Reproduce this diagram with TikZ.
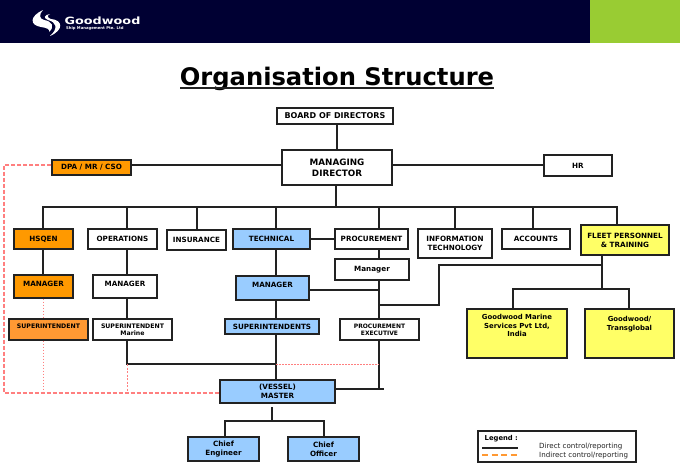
\documentclass[tikz,border=0pt]{standalone}
\usepackage{fontspec}
\setmainfont{DejaVu Sans}
\definecolor{navy}{HTML}{000033}
\definecolor{lime}{HTML}{99CC33}
\definecolor{orgbox}{HTML}{FF9900}
\definecolor{orglight}{HTML}{FF9933}
\definecolor{bluebox}{HTML}{99CCFF}
\definecolor{yellowbox}{HTML}{FFFF66}
\definecolor{ink}{HTML}{222222}
\definecolor{pinkline}{HTML}{FF7F7F}

\begin{document}
\begin{tikzpicture}[
        x=1pt, y=-1pt,
        every node/.style = {font=\fontsize{7.2}{9}\selectfont\bfseries, text=black},
        box/.style = {draw=ink, line width=1.2pt, fill=white, align=center, inner sep=0pt},
        size/.style 2 args = {minimum width=#1pt, minimum height=#2pt},
        uptext/.style = {text depth=#1pt},
        link/.style = {draw=ink, line width=1.3pt},
        indirect/.style = {draw=pinkline, line width=1.1pt, dash pattern=on 4pt off 2pt},
        dots/.style = {draw=pinkline, line width=1pt, dash pattern=on 1.5pt off 1.5pt}
    ]
    \useasboundingbox (0,0) rectangle (680,471);

    \fill[navy] (0,0) rectangle (590,43);
    \fill[lime] (590,0) rectangle (680,43);
    \fill[white] (43,10) .. controls (30,16) and (29,25) .. (41,27) .. controls (47,28) and (50,29) .. (49,32) .. controls (55,27) and (52,21) .. (44,20) .. controls (39,19) and (39,14) .. (43,10);
    \fill[white] (50,36) .. controls (64,30) and (63,20) .. (51,19) .. controls (47,18) and (47,15) .. (50,14) .. controls (44,15) and (43,18) .. (48,20) .. controls (56,22) and (59,28) .. (50,36);
    \node[text=white, font=\fontsize{10}{10}\selectfont\bfseries, xscale=1.28, transform shape, inner sep=0pt] (logoname) at (102.5,21) {Goodwood};
    \node[text=white, font=\fontsize{3.8}{4}\selectfont\bfseries, inner sep=0pt, anchor=west] (logosub) at (66,28) {Ship Management Pte. Ltd};

    \node[font=\fontsize{24.2}{26}\selectfont\bfseries, inner sep=0pt, anchor=base] (title) at (337,85) {Organisation Structure};
    \draw[ink, line width=1.6pt] (180,88) -- (494,88);

    \node[box, size={116}{16}, font=\fontsize{8}{9}\selectfont\bfseries] (board) at (335,116) {BOARD OF DIRECTORS};
    \node[box, size={110}{35}, font=\fontsize{8.8}{11}\selectfont\bfseries] (md) at (337,167.5) {MANAGING\\DIRECTOR};
    \node[box, size={79}{15}, fill=orgbox] (dpa) at (91.5,167.5) {DPA / MR / CSO};
    \node[box, size={68}{21}] (hr) at (578,165.5) {HR};

    \node[box, size={59}{20}, fill=orgbox] (hsqen) at (43.5,239) {HSQEN};
    \node[box, size={69}{20}] (ops) at (122.5,239) {OPERATIONS};
    \node[box, size={59}{20}] (insurance) at (196.5,240) {INSURANCE};
    \node[box, size={77}{20}, fill=bluebox] (technical) at (271.5,239) {TECHNICAL};
    \node[box, size={73}{20}] (procurement) at (371.5,239) {PROCUREMENT};
    \node[box, size={74}{29}] (infotech) at (455,243.5) {INFORMATION\\TECHNOLOGY};
    \node[box, size={68}{20}] (accounts) at (536,239) {ACCOUNTS};
    \node[box, size={88}{30}, fill=yellowbox] (fleet) at (625,240) {FLEET PERSONNEL\\\&\ TRAINING};

    \node[box, size={59}{23}, fill=orgbox, uptext=6] (hsqenmgr) at (43.5,286.5) {MANAGER};
    \node[box, size={64}{23}, uptext=6] (opsmgr) at (125,286.5) {MANAGER};
    \node[box, size={73}{24}, fill=bluebox, uptext=6] (techmgr) at (272.5,288) {MANAGER};
    \node[box, size={74}{21}] (procmgr) at (372,269.5) {Manager};

    \node[box, size={79}{21}, fill=orglight, uptext=6, font=\fontsize{6.2}{7.5}\selectfont\bfseries] (hsqensup) at (48.5,329.5) {SUPERINTENDENT};
    \node[box, size={79}{21}, font=\fontsize{6.2}{7.3}\selectfont\bfseries] (marinesup) at (132.5,329.5) {SUPERINTENDENT\\Marine};
    \node[box, size={94}{15}, fill=bluebox] (techsup) at (272,326.5) {SUPERINTENDENTS};
    \node[box, size={79}{21}, font=\fontsize{6}{7.3}\selectfont\bfseries] (procexec) at (379.5,329.5) {PROCUREMENT\\EXECUTIVE};

    \node[box, size={100}{49}, fill=yellowbox, uptext=16, font=\fontsize{6.9}{8.4}\selectfont\bfseries] (gmarine) at (517,333.5) {Goodwood Marine\\Services Pvt Ltd,\\India};
    \node[box, size={89}{49}, fill=yellowbox, uptext=20, font=\fontsize{6.9}{8.4}\selectfont\bfseries] (transglobal) at (629.5,333.5) {Goodwood/\\Transglobal};

    \node[box, size={115}{23}, fill=bluebox] (master) at (277.5,391.5) {(VESSEL)\\MASTER};
    \node[box, size={71}{24}, fill=bluebox] (chiefeng) at (223.5,449) {Chief\\Engineer};
    \node[box, size={71}{24}, fill=bluebox] (chiefoff) at (323.5,449) {Chief\\Officer};

    \coordinate (bus) at (336,207);
    \coordinate (fleetjoin) at (602,289);
    \coordinate (mastertop) at (272,407);
    \coordinate (masterbus) at (272,421);
    \coordinate (marinebus) at (127,364);
    \coordinate (techbus) at (276,364);
    \coordinate (procbus) at (379,364);
    \coordinate (procjoin) at (379,305);
    \coordinate (fleetbend) at (439,265);
    \coordinate (indleft) at (4,165);

    \draw[link] (board.south -| md) -- (md.north);
    \draw[link] (dpa.east |- 0,165) -- (md.west |- 0,165);
    \draw[link] (md.east |- 0,165) -- (hr.west |- 0,165);
    \draw[link] (md.south -| bus) -- (bus);
    \draw[link] (hsqen.north -| 43,0) |- (bus) -| (fleet.north -| 617,0);
    \draw[link] (ops.north -| 127,0) -- (127,207);
    \draw[link] (insurance.north -| 197,0) -- (197,207);
    \draw[link] (technical.north -| 276,0) -- (276,207);
    \draw[link] (procurement.north -| 379,0) -- (379,207);
    \draw[link] (infotech.north) -- (455,207);
    \draw[link] (accounts.north -| 533,0) -- (533,207);

    \draw[link] (hsqen.south -| 43,0) -- (hsqenmgr.north -| 43,0);
    \draw[link] (ops.south -| 127,0) -- (opsmgr.north -| 127,0);
    \draw[link] (opsmgr.south -| 127,0) -- (marinesup.north -| 127,0);
    \draw[link] (marinesup.south -| 127,0) -- (marinebus) -- (techbus);
    \draw[link] (technical.south -| 276,0) -- (techmgr.north -| 276,0);
    \draw[link] (techmgr.south -| 276,0) -- (techsup.north -| 276,0);
    \draw[link] (techsup.south -| 276,0) -- (master.north -| 276,0);
    \draw[link] (technical.east) -- (procurement.west);
    \draw[link] (techmgr.east |- 0,290) -- (379,290);
    \draw[link] (procurement.south -| 379,0) -- (procmgr.north -| 379,0);
    \draw[link] (procmgr.south -| 379,0) -- (procexec.north -| 379,0);
    \draw[link] (procexec.south -| 379,0) -- (379,389);
    \draw[link] (master.east |- 0,389) -- (384,389);

    \draw[link] (fleet.south -| fleetjoin) -- (fleetjoin);
    \draw[link] (fleetjoin |- fleetbend) -- (fleetbend) -- (procjoin -| fleetbend) -- (procjoin);
    \draw[link] (gmarine.north -| 513,0) |- (fleetjoin) -| (transglobal.north -| 629,0);

    \draw[link] (mastertop) -- (masterbus);
    \draw[link] (chiefeng.north -| 225,0) |- (masterbus) -| (chiefoff.north -| 324,0);

    \draw[indirect] (dpa.west |- indleft) -- (indleft) -- (4,393) -- (master.west |- 0,393);
    \draw[dots] (hsqenmgr.south -| 43,0) -- (hsqensup.north -| 43,0);
    \draw[dots] (hsqensup.south -| 43,0) -- (43,393);
    \draw[dots, dash pattern=on 2pt off 1.5pt] (marinebus) -- (127,393);
    \draw[dots] (techbus) -- (procbus);

    \node[draw=ink, line width=1.2pt, minimum width=158pt, minimum height=31pt, inner sep=0pt] (legendbox) at (557,446.5) {};
    \node[anchor=west, inner sep=0pt, font=\fontsize{6.8}{8}\selectfont\bfseries] (legendtitle) at (484.5,438.5) {Legend :};
    \coordinate (solidl) at (482,448);
    \coordinate (solidr) at (518,448);
    \coordinate (dashl) at (482,455);
    \coordinate (dashr) at (518,455);
    \draw[link] (solidl) -- (solidr);
    \draw[draw=orglight, line width=1.3pt, dash pattern=on 6pt off 3.5pt] (dashl) -- (dashr);
    \node[anchor=west, inner sep=0pt, font=\fontsize{7.1}{8}\selectfont, text=ink] (legenddirect) at (539,447) {Direct control/reporting};
    \node[anchor=west, inner sep=0pt, font=\fontsize{7.1}{8}\selectfont, text=ink] (legendindirect) at (539,455.5) {Indirect control/reporting};

\end{tikzpicture}
\end{document}
